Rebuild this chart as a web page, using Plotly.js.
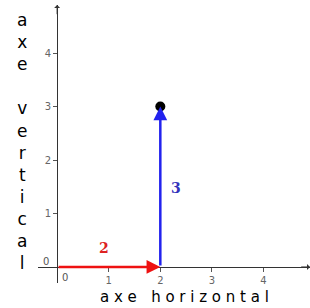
<!DOCTYPE html>
<html><head><meta charset="utf-8">
<script src="https://cdn.plot.ly/plotly-3.0.1.min.js"></script>
<style>html,body{margin:0;padding:0;background:#fff}</style>
</head><body>
<div id="chart" style="width:310px;height:308px"></div>
<script>
// Vectors (start -> end)
const vecStartX = [0, 2];
const vecStartY = [0, 0];
const vecEndX = [2, 2];
const vecEndY = [0, 3];
const vecLabels = ["2", "3"];
const vecLabelX = [0.9, 2.3];
const vecLabelY = [0.35, 1.47];
const vecColors = ["#ee1111", "#2222ee"];
const labelColors = ["#dd2222", "#3333bb"];
const pointX = [2];
const pointY = [3];
const tickVals = [1, 2, 3, 4];
const tickText = ["1", "2", "3", "4"];
const xTitle = "a x e   h o r i z o n t a l";
const yTitleLetters = ["a","x","e"," ","v","e","r","t","i","c","a","l"];

const xRange = [-0.37, 4.9];
const yRange = [-0.3, 4.9];
const yPos = (0 - xRange[0]) / (xRange[1] - xRange[0]);
const xPos = (0 - yRange[0]) / (yRange[1] - yRange[0]);

const annotations = [];
for (let i = 0; i < vecEndX.length; i++) {
  annotations.push({
    x: vecEndX[i], y: vecEndY[i], ax: vecStartX[i], ay: vecStartY[i],
    xref: 'x', yref: 'y', axref: 'x', ayref: 'y',
    showarrow: true, arrowhead: 2, arrowsize: 1.1, arrowwidth: 2.5,
    arrowcolor: vecColors[i], text: ''
  });
  annotations.push({
    x: vecLabelX[i], y: vecLabelY[i], xref: 'x', yref: 'y', showarrow: false,
    text: '<b>' + vecLabels[i] + '</b>',
    font: {family: 'DejaVu Serif', size: 14, color: labelColors[i]}
  });
}
// zero labels
annotations.push({x: -0.22, y: 0.1, xref: 'x', yref: 'y', showarrow: false, text: '0',
  font: {family: 'DejaVu Sans', size: 10, color: '#555'}});
annotations.push({x: 0.15, y: -0.2, xref: 'x', yref: 'y', showarrow: false, text: '0',
  font: {family: 'DejaVu Sans', size: 10, color: '#555'}});
// axis arrows
annotations.push({x: xRange[1], y: 0, ax: xRange[1] - 0.2, ay: 0, xref: 'x', yref: 'y', axref: 'x', ayref: 'y',
  showarrow: true, arrowhead: 1, arrowsize: 1, arrowwidth: 1, arrowcolor: '#333', text: ''});
annotations.push({x: 0, y: yRange[1], ax: 0, ay: yRange[1] - 0.2, xref: 'x', yref: 'y', axref: 'x', ayref: 'y',
  showarrow: true, arrowhead: 1, arrowsize: 1, arrowwidth: 1, arrowcolor: '#333', text: ''});
// titles
annotations.push({x: 0.537, y: -0.05, xref: 'paper', yref: 'paper', showarrow: false, text: xTitle,
  yanchor: 'middle', font: {family: 'DejaVu Sans', size: 15, color: '#000'}});
annotations.push({x: -0.085, y: 0.51, xref: 'paper', yref: 'paper', showarrow: false,
  text: yTitleLetters.join('<br>'), yanchor: 'middle',
  font: {family: 'DejaVu Sans', size: 17, color: '#000'}});

const data = [{
  x: pointX, y: pointY, type: 'scatter', mode: 'markers',
  marker: {color: '#000', size: 10}, hoverinfo: 'skip'
}];

const axisCommon = {
  showgrid: false, zeroline: false, showline: true, linecolor: '#333', linewidth: 1.3,
  ticks: 'outside', ticklen: 4, tickcolor: '#555', tickvals: tickVals, ticktext: tickText,
  tickfont: {family: 'DejaVu Sans', size: 10, color: '#666'}, anchor: 'free'
};

const layout = {
  width: 310, height: 308,
  margin: {l: 38, r: 0, t: 5, b: 25},
  paper_bgcolor: '#fff', plot_bgcolor: '#fff',
  showlegend: false,
  xaxis: Object.assign({}, axisCommon, {range: xRange, position: xPos}),
  yaxis: Object.assign({}, axisCommon, {range: yRange, position: yPos}),
  annotations: annotations
};

Plotly.newPlot('chart', data, layout, {staticPlot: true, displayModeBar: false});
</script>
</body></html>
